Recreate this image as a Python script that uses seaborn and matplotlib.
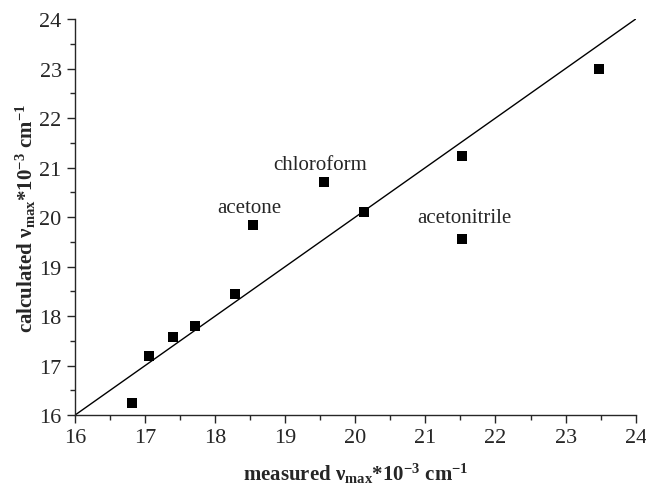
import matplotlib
matplotlib.use("Agg")
import matplotlib.pyplot as plt
import seaborn as sns
import numpy as np
import pandas as pd
from matplotlib.ticker import MultipleLocator

# measured vs calculated nu_max (x10^-3 cm^-1)
measured = [16.82, 17.05, 17.40, 17.72, 18.28, 18.54, 19.55, 20.13, 21.52, 21.52, 23.48]
calculated = [16.25, 17.20, 17.58, 17.80, 18.44, 19.84, 20.70, 20.10, 21.24, 19.56, 22.99]
# ideal line y = x
line_x = [16, 24]
line_y = [16, 24]
# annotated solvents
solvents = ["acetone", "chloroform", "acetonitrile"]
solvent_x = [18.49, 19.50, 21.55]
solvent_y = [20.10, 20.97, 19.90]

df = pd.DataFrame({"measured": measured, "calculated": calculated})

sns.set_style("ticks")
plt.rcParams["font.family"] = ["Liberation Serif", "DejaVu Serif"]
plt.rcParams["mathtext.fontset"] = "custom"
plt.rcParams["mathtext.rm"] = "Liberation Serif"
plt.rcParams["mathtext.bf"] = "Liberation Serif:bold"
plt.rcParams["mathtext.it"] = "Liberation Serif:italic"

fig = plt.figure(figsize=(6.46, 4.89), dpi=100)
ax = fig.add_axes([0.116, 0.149, 0.868, 0.810])

sns.lineplot(x=line_x, y=line_y, ax=ax, color="black", linewidth=1.0)
sns.scatterplot(data=df, x="measured", y="calculated", ax=ax, marker="s",
                color="black", s=52, edgecolor="black", linewidth=0)

for name, sx, sy in zip(solvents, solvent_x, solvent_y):
    ax.text(sx, sy, name, ha="center", va="baseline", fontsize=15)

ax.set_xlim(16, 24)
ax.set_ylim(16, 24)
ax.xaxis.set_major_locator(MultipleLocator(1))
ax.yaxis.set_major_locator(MultipleLocator(1))
ax.xaxis.set_minor_locator(MultipleLocator(0.5))
ax.yaxis.set_minor_locator(MultipleLocator(0.5))
ax.tick_params(which="major", direction="out", length=6, width=1, labelsize=16)
ax.tick_params(which="minor", direction="out", length=3.5, width=1)

ax.set_xlabel(r"measured ν$_{\mathbf{max}}$*10$^{\mathbf{-3}}$ cm$^{\mathbf{-1}}$",
              fontsize=15, fontweight="bold", labelpad=10)
ax.set_ylabel(r"calculated ν$_{\mathbf{max}}$*10$^{\mathbf{-3}}$ cm$^{\mathbf{-1}}$",
              fontsize=15, fontweight="bold", labelpad=1)

sns.despine(ax=ax)
for s in ["left", "bottom"]:
    ax.spines[s].set_linewidth(1.0)

fig.savefig("out.png", dpi=100)
